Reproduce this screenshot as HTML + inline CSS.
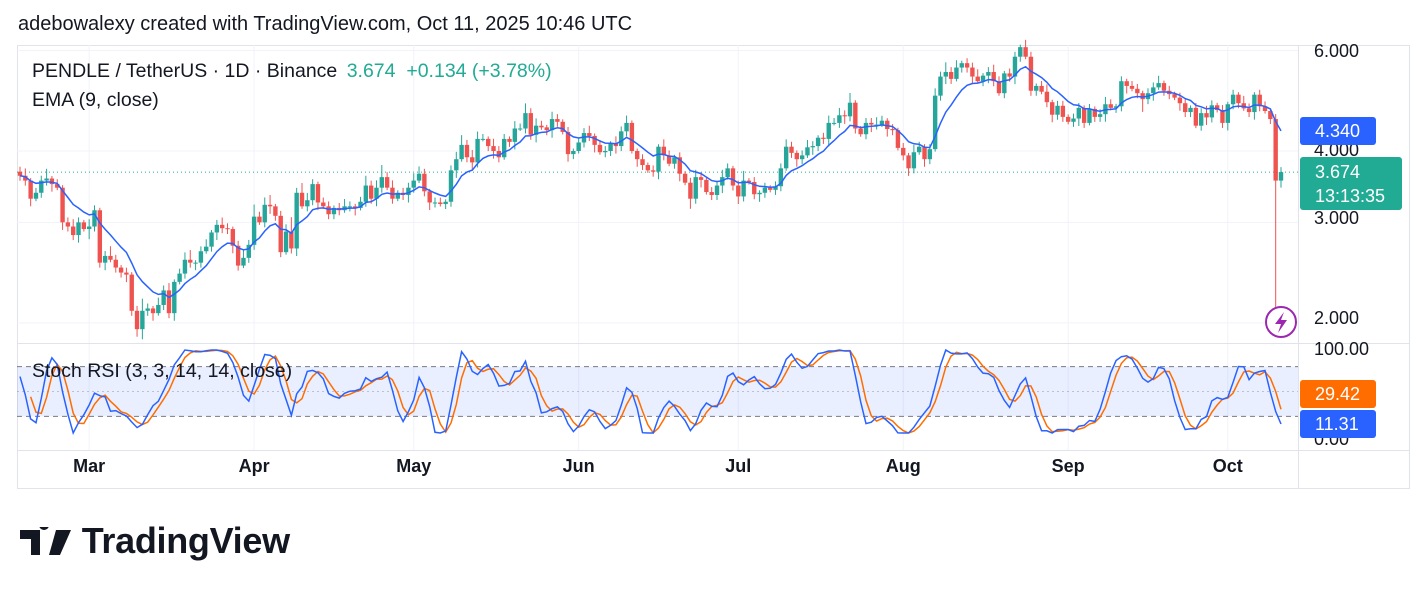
<!DOCTYPE html>
<html><head><meta charset="utf-8">
<style>
body{margin:0;background:#fff;width:1428px;height:591px;overflow:hidden;font-family:"Liberation Sans",sans-serif;color:#131722;position:relative}
.t{position:absolute;white-space:nowrap}
.ax{position:absolute;font-size:18px;color:#131722}
.badge{position:absolute;color:#fff;font-size:18px;border-radius:3px;padding-left:15px;box-sizing:border-box}
</style></head><body>
<div class="t" style="left:18px;top:13px;font-size:20px">adebowalexy created with TradingView.com, Oct 11, 2025 10:46 UTC</div>
<svg id="c" width="1428" height="591" style="position:absolute;left:0;top:0"></svg>
<div class="t" style="left:32px;top:60px;font-size:19.5px">PENDLE / TetherUS · 1D · Binance <span style="color:#22ab94;margin-left:4px">3.674 &nbsp;+0.134 (+3.78%)</span></div>
<div class="t" style="left:32px;top:89px;font-size:19.5px">EMA (9, close)</div>
<div class="t" style="left:32px;top:360px;font-size:19.5px">Stoch RSI (3, 3, 14, 14, close)</div>
<div class="ax" style="left:1314px;top:41px">6.000</div>
<div class="ax" style="left:1314px;top:140px">4.000</div>
<div class="ax" style="left:1314px;top:208px">3.000</div>
<div class="ax" style="left:1314px;top:308px">2.000</div>
<div class="ax" style="left:1314px;top:339px">100.00</div>
<div class="ax" style="left:1314px;top:429px;clip-path:inset(8px 0 0 0)">0.00</div>
<div class="badge" style="left:1300px;top:117px;width:76px;height:28px;line-height:28px;background:#2962ff">4.340</div>
<div class="badge" style="left:1300px;top:157px;width:102px;height:53px;background:#22ab94;line-height:24px;padding-top:3px">3.674<br>13:13:35</div>
<div class="badge" style="left:1300px;top:380px;width:76px;height:28px;line-height:28px;background:#ff6d00">29.42</div>
<div class="badge" style="left:1300px;top:410px;width:76px;height:28px;line-height:28px;background:#2962ff">11.31</div>
<div class="t" style="left:20px;top:520px;font-size:36px;font-weight:bold;letter-spacing:-0.3px">
<svg width="52" height="30" style="vertical-align:-4px"><path d="M0 3h20v25h-9V12H0z M24 3a5 5 0 1 1 0.1 0z M36 3h15L40 28H29z" fill="#131722"/></svg> TradingView</div>
<script>
const closes=[3.62,3.55,3.30,3.38,3.55,3.58,3.50,3.45,3.0,2.95,2.85,3.0,2.92,2.95,3.15,2.55,2.62,2.58,2.50,2.45,2.43,2.1,1.95,2.1,2.12,2.08,2.15,2.28,2.08,2.36,2.44,2.58,2.55,2.55,2.67,2.72,2.88,2.97,2.93,2.92,2.73,2.52,2.6,2.74,3.07,3.0,3.22,3.2,3.08,2.66,2.89,2.7,3.38,3.2,3.28,3.5,3.25,3.2,3.1,3.18,3.15,3.2,3.2,3.18,3.26,3.48,3.3,3.45,3.6,3.45,3.3,3.38,3.35,3.45,3.55,3.65,3.4,3.25,3.25,3.23,3.26,3.7,3.87,4.1,3.9,3.82,4.2,4.2,4.08,4.0,3.9,4.2,4.15,4.38,4.38,4.66,4.27,4.43,4.4,4.35,4.55,4.5,4.32,3.95,4.0,4.14,4.3,4.25,4.1,3.98,4.0,4.12,4.08,4.33,4.48,4.0,3.87,3.78,3.7,3.68,4.07,3.93,3.8,3.9,3.65,3.52,3.3,3.6,3.56,3.39,3.35,3.48,3.6,3.73,3.48,3.33,3.55,3.53,3.36,3.38,3.45,3.42,3.47,3.73,4.07,3.97,3.87,3.93,4.06,4.08,4.22,4.2,4.48,4.48,4.62,4.6,4.86,4.38,4.28,4.48,4.45,4.45,4.52,4.37,4.35,4.05,3.93,3.73,3.98,4.07,3.87,4.03,5.0,5.4,5.5,5.35,5.6,5.7,5.6,5.4,5.3,5.42,5.5,5.3,5.05,5.47,5.4,5.85,6.08,5.85,5.1,5.2,5.08,4.87,4.63,4.8,4.59,4.5,4.56,4.76,4.48,4.74,4.59,4.64,4.83,4.76,4.79,5.3,5.2,5.14,5.05,4.93,5.05,5.17,5.26,5.1,5.03,4.96,4.85,4.68,4.76,4.43,4.66,4.58,4.81,4.72,4.48,4.83,5.02,4.85,4.75,4.68,5.02,4.79,4.7,4.55,3.55,3.674];
const firstOpen=3.68;
const wickUp=[2,3,1,2,2,4,1,2,1,2,3,2,1,3,2,1,2,4,2,1,2,1,2,5,2,1,3,2,3,1,2,3,4,1,2,3,1,2,3,2,1,2,3,2,5,2,3,4,1,2,3,6,2,4,3,2,1,2,2,1,2,3,2,1,2,4,2,3,5,2,3,1,2,2,3,3,2,1,2,2,1,2,3,4,2,3,3,2,1,3,2,2,1,3,2,4,2,3,2,1,3,2,1,2,1,2,2,3,1,2,2,1,3,2,3,1,1,2,1,2,1,3,2,1,2,1,2,3,2,1,2,2,3,2,1,2,4,1,2,1,2,1,2,2,3,2,1,2,3,2,1,2,3,2,3,2,4,1,1,2,2,3,2,1,2,1,2,1,3,2,1,2,3,2,4,2,3,1,2,2,3,1,2,3,2,1,2,2,1,3,2,1,2,3,1,2,2,1,2,2,1,2,1,2,3,2,1,2,1,2,2,1,2,2,3,1,2,1,2,2,1,2,2,3,2,1,2,1,2,1,3,2,1,2,2,1,2,2,1,1,2,3];
const wickDn=[2,2,3,1,2,2,3,1,3,2,2,3,1,4,2,2,3,1,2,2,3,2,3,4,2,3,1,2,2,3,1,2,2,3,2,1,2,3,2,2,3,2,1,2,2,1,2,3,2,2,1,2,3,1,2,2,3,1,2,2,2,1,2,3,1,2,2,3,2,1,2,1,2,3,2,1,2,3,2,1,2,2,3,1,2,3,2,1,2,3,2,1,2,3,1,2,2,3,1,2,3,2,1,3,2,1,2,2,3,1,2,2,3,2,2,1,3,2,1,2,3,2,1,2,3,1,4,2,3,1,2,2,3,1,2,3,2,1,2,3,2,1,2,2,1,2,3,2,1,3,2,2,3,1,2,3,2,2,1,2,3,2,1,3,2,1,2,3,2,1,3,2,1,2,3,2,1,2,2,3,1,2,3,2,1,2,2,3,2,1,2,2,1,2,3,2,2,1,2,3,2,1,2,2,3,1,2,2,3,1,2,5,2,3,1,2,2,1,3,2,2,1,2,3,2,1,2,3,2,2,1,2,3,2,1,2,1,2,3,1,2,2,3,2,1,2,3];
const lowOverrideIdx=[236,237];
const lowOverride=[2.05,3.45];
const warmup=[3.9,3.95,4.05,3.98,3.9,3.82,3.88,3.95,3.85,3.78,3.7,3.75,3.82,3.9,3.86,3.8,3.72,3.65,3.7,3.78,3.74,3.68,3.6,3.66,3.72,3.7,3.64,3.6,3.66,3.68];
const monthLabels=["Mar","Apr","May","Jun","Jul","Aug","Sep","Oct"];
const monthIdx=[13,44,74,105,135,166,197,227];
const priceTicks=[6,4,3,2];
const stochLevels=[80,20];
const lastPrice=3.674;

const svg=document.getElementById('c');const NS='http://www.w3.org/2000/svg';
function mk(tag,attrs,name,inter){const e=document.createElementNS(NS,tag);for(const k in attrs)e.setAttribute(k,attrs[k]);


svg.appendChild(e);return e;}
const L=17,R=1298,T=45,B=343,X0=20,STEP=(1281-20)/(closes.length-1);
function xI(i){return X0+i*STEP;}
function yP(p){return 151-248*Math.log(p/4);}
function yS(v){return 433-0.83*v;}
mk('rect',{x:17.5,y:45.5,width:1392,height:443,fill:'none',stroke:'#e0e3eb'},'chart-frame',false);
monthIdx.forEach((m,k)=>{mk('line',{x1:xI(m),x2:xI(m),y1:45,y2:450,stroke:'#f0f3fa'},'grid-v-'+monthLabels[k].toLowerCase(),false);});
priceTicks.forEach(p=>{mk('line',{x1:L,x2:R,y1:yP(p),y2:yP(p),stroke:'#f0f3fa'},'grid-h-price',false);});
mk('line',{x1:L,x2:1410,y1:343.5,y2:343.5,stroke:'#e0e3eb'},'pane-separator',false);
mk('line',{x1:L,x2:1410,y1:450.5,y2:450.5,stroke:'#e0e3eb'},'time-axis-border',false);
mk('line',{x1:1298.5,x2:1298.5,y1:45,y2:488,stroke:'#e0e3eb'},'price-axis-border',false);
mk('rect',{x:L,y:yS(80),width:R-L,height:yS(20)-yS(80),fill:'#2962ff',opacity:0.1},'stoch-band',false);
stochLevels.forEach(v=>{mk('line',{x1:L,x2:R,y1:yS(v),y2:yS(v),stroke:'#787b86','stroke-dasharray':'5,4'},'stoch-level-'+v,false);});
mk('line',{x1:L,x2:R,y1:yS(50),y2:yS(50),stroke:'#787b86','stroke-opacity':0.4,'stroke-dasharray':'2,3'},'stoch-level-50',false);
mk('line',{x1:L,x2:R,y1:yP(lastPrice),y2:yP(lastPrice),stroke:'#22ab94','stroke-dasharray':'1,3'},'last-price-line',false);
for(let i=0;i<closes.length;i++){
 const o=i?closes[i-1]:firstOpen,c=closes[i];
 const hi=Math.max(o,c)*(1+(wickUp[i]||2)/100);
 let lo=Math.min(o,c)*(1-(wickDn[i]||2)/100);
 const oi=lowOverrideIdx.indexOf(i);if(oi>=0)lo=lowOverride[oi];
 const col=c>=o?'#26a69a':'#ef5350';const x=xI(i);
 mk('line',{x1:x,x2:x,y1:yP(hi),y2:yP(lo),stroke:col,'stroke-width':1},'candle-wick-'+i,false);
 const y1=yP(Math.max(o,c)),y2=yP(Math.min(o,c));
 mk('rect',{x:x-2.2,y:y1,width:4.4,height:Math.max(1,y2-y1),fill:col},'candle-body-'+i,true);
}
let ema=[],e=closes[0];const a=2/10;
closes.forEach((c,i)=>{e=i?a*c+(1-a)*e:c;ema.push(e);});
mk('path',{d:ema.map((v,i)=>(i?'L':'M')+xI(i).toFixed(1)+' '+yP(v).toFixed(1)).join(' '),fill:'none',stroke:'#2962ff','stroke-width':1.5},'ema-line',false);
const all=warmup.concat(closes);let ag=0,al=0,rsi=[];
for(let i=1;i<all.length;i++){const d=all[i]-all[i-1];const g=Math.max(d,0),l=Math.max(-d,0);
 if(i<=14){ag+=g/14;al+=l/14;} else {ag=(ag*13+g)/14;al=(al*13+l)/14;}
 rsi.push(i>=14?100-100/(1+ag/(al||1e-9)):null);}
let st=rsi.map((v,i)=>{if(v==null||i<27)return null;const w=rsi.slice(i-13,i+1);const mn=Math.min(...w),mx=Math.max(...w);return mx>mn?100*(v-mn)/(mx-mn):50;});
function sma(arr,n){return arr.map((v,i)=>{const w=arr.slice(Math.max(0,i-n+1),i+1);if(w.some(z=>z==null)||w.length<n)return null;return w.reduce((s,z)=>s+z,0)/n;});}
const K=sma(st,3),D=sma(K,3);const off=all.length-1-closes.length;
function sp(arr){let d='';for(let i=0;i<closes.length;i++){const v=arr[i+off];if(v==null)continue;d+=(d?'L':'M')+xI(i).toFixed(1)+' '+yS(v).toFixed(1)+' ';}return d;}
mk('path',{d:sp(D),fill:'none',stroke:'#ff6d00','stroke-width':1.5},'stoch-d-line',false);
mk('path',{d:sp(K),fill:'none',stroke:'#2962ff','stroke-width':1.5},'stoch-k-line',false);
monthIdx.forEach((m,k)=>{const t=mk('text',{x:xI(m),y:472,'text-anchor':'middle','font-size':18,'font-weight':'bold',fill:'#131722','font-family':'Liberation Sans, sans-serif'},'time-label-'+monthLabels[k].toLowerCase(),false);t.textContent=monthLabels[k];});
mk('circle',{cx:1281,cy:322,r:15,fill:'#fff',stroke:'#9c27b0','stroke-width':2},'event-marker',true);
mk('path',{d:'M1284 312 L1275 324 L1281 324 L1278 333 L1287 320 L1281 320 Z',fill:'#9c27b0'},'event-marker-bolt',false);
</script>
</body></html>
